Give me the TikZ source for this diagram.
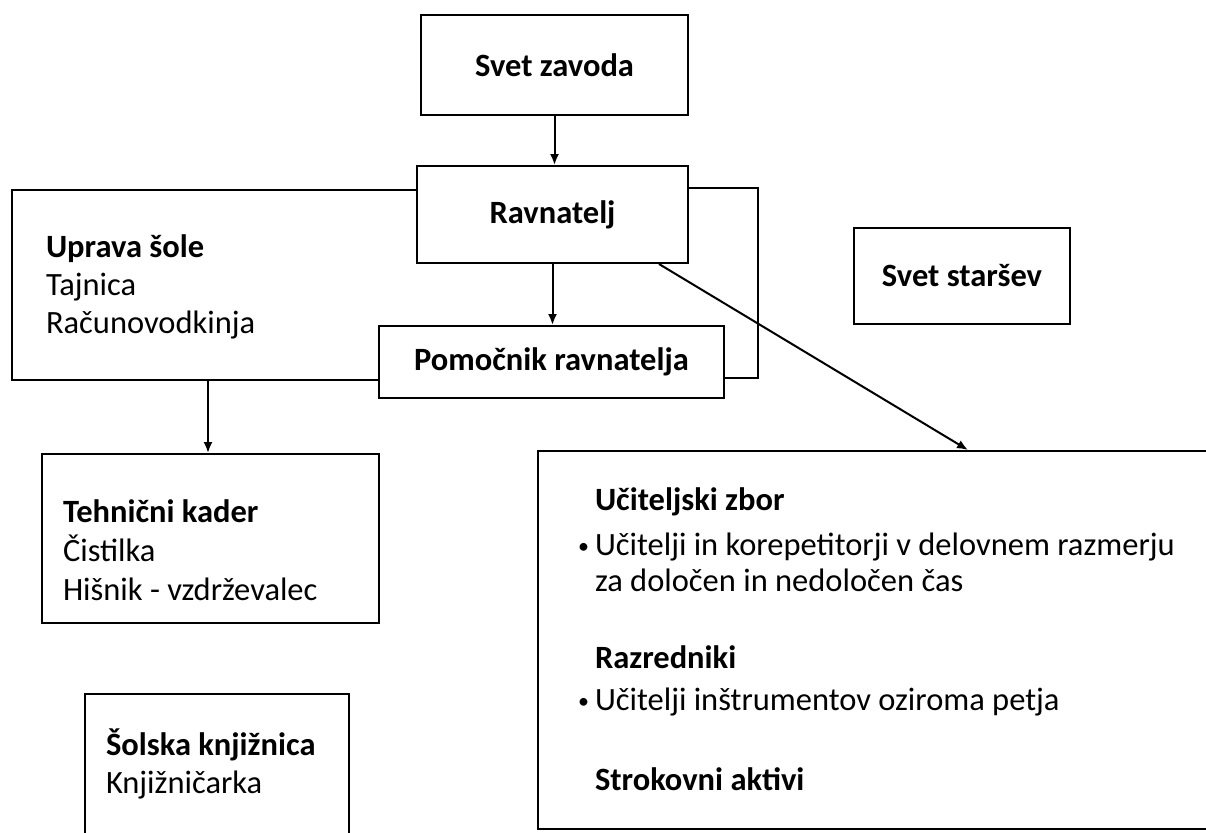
\documentclass[tikz,border=0pt]{standalone}
\usepackage{fontspec}
\setmainfont{Carlito}
\usetikzlibrary{calc,arrows.meta}

\begin{document}
\begin{tikzpicture}[x=1pt,y=-1pt,>={Latex[length=11pt,width=9pt]},line width=2pt,
		okvir/.style={draw=black,line width=2pt,inner sep=0pt,anchor=north west,
			font=\fontsize{32.5}{39}\selectfont\bfseries},
		napis/.style={anchor=base west,inner sep=0pt,font=\fontsize{32.5}{39}\selectfont},
		naslov/.style={anchor=base west,inner sep=0pt,font=\fontsize{32.5}{39}\selectfont\bfseries},
		pika/.style={anchor=base west,inner sep=0pt,font=\fontsize{22}{26}\selectfont},
		veza/.style={->,line width=2pt}]
		\useasboundingbox (0,0) rectangle (1206,832);
		\clip (0,0) rectangle (1206,832);
		% okvirji
		\node[okvir,minimum width=267pt,minimum height=100pt] (svet) at (420,14) {Svet zavoda};
		\node[okvir,minimum width=271pt,minimum height=97pt] (ravnatelj) at (416,165) {Ravnatelj};
		\node[okvir,minimum width=345pt,minimum height=72pt] (pomocnik) at (378,325) {Pomočnik ravnatelja};
		\node[okvir,minimum width=216pt,minimum height=96pt] (starsi) at (853,227) {Svet staršev};
		\node[okvir,minimum width=337pt,minimum height=169pt] (tehnicni) at (41,453) {};
		\node[okvir,minimum width=264pt,minimum height=200pt] (knjiznica) at (84,693) {};
		\node[okvir,minimum width=720pt,minimum height=378pt] (zbor) at (537,450) {};
		% uprava sole
		\draw (ravnatelj.west |- 0,190) -| (12,380) -- (pomocnik.west |- 0,380);
		\draw (ravnatelj.east |- 0,188) -| (758,378) -- (pomocnik.east |- 0,378);
		\node[naslov] (uprava) at (45,257) {Uprava šole};
		\node[napis] (tajnica) at (45,295) {Tajnica};
		\node[napis] (racun) at (45,333) {Računovodkinja};
		% tehnicni kader
		\node[naslov] (kader) at (62,522) {Tehnični kader};
		\node[napis] (cistilka) at (62,561) {Čistilka};
		\node[napis] (hisnik) at (62,600) {Hišnik - vzdrževalec};
		% knjiznica
		\node[naslov] (solska) at (105,755) {Šolska knjižnica};
		\node[napis] (knjiz) at (105,793) {Knjižničarka};
		% uciteljski zbor
		\node[naslov] (uzbor) at (594,510) {Učiteljski zbor};
		\node[pika] (pika1) at (577,553) {•};
		\node[napis] (ucitelji) at (594,555) {Učitelji in korepetitorji v delovnem razmerju};
		\node[napis] (zacas) at (594,591) {za določen in nedoločen čas};
		\node[naslov] (razredniki) at (594,668) {Razredniki};
		\node[pika] (pika2) at (577,708) {•};
		\node[napis] (instr) at (594,710) {Učitelji inštrumentov oziroma petja};
		\node[naslov] (aktivi) at (594,790) {Strokovni aktivi};
		% puscice
		\coordinate (upravadno) at (208,380);
		\draw[veza] (svet.south) -- (svet.south |- ravnatelj.north);
		\draw[veza] (ravnatelj.south) -- (ravnatelj.south |- pomocnik.north);
		\draw[veza] ($(ravnatelj.south east)+(-30,0)$) -- ($(zbor.north west)+(431,0)$);
		\draw[veza] (upravadno) -- (upravadno |- tehnicni.north);
\end{tikzpicture}
\end{document}
